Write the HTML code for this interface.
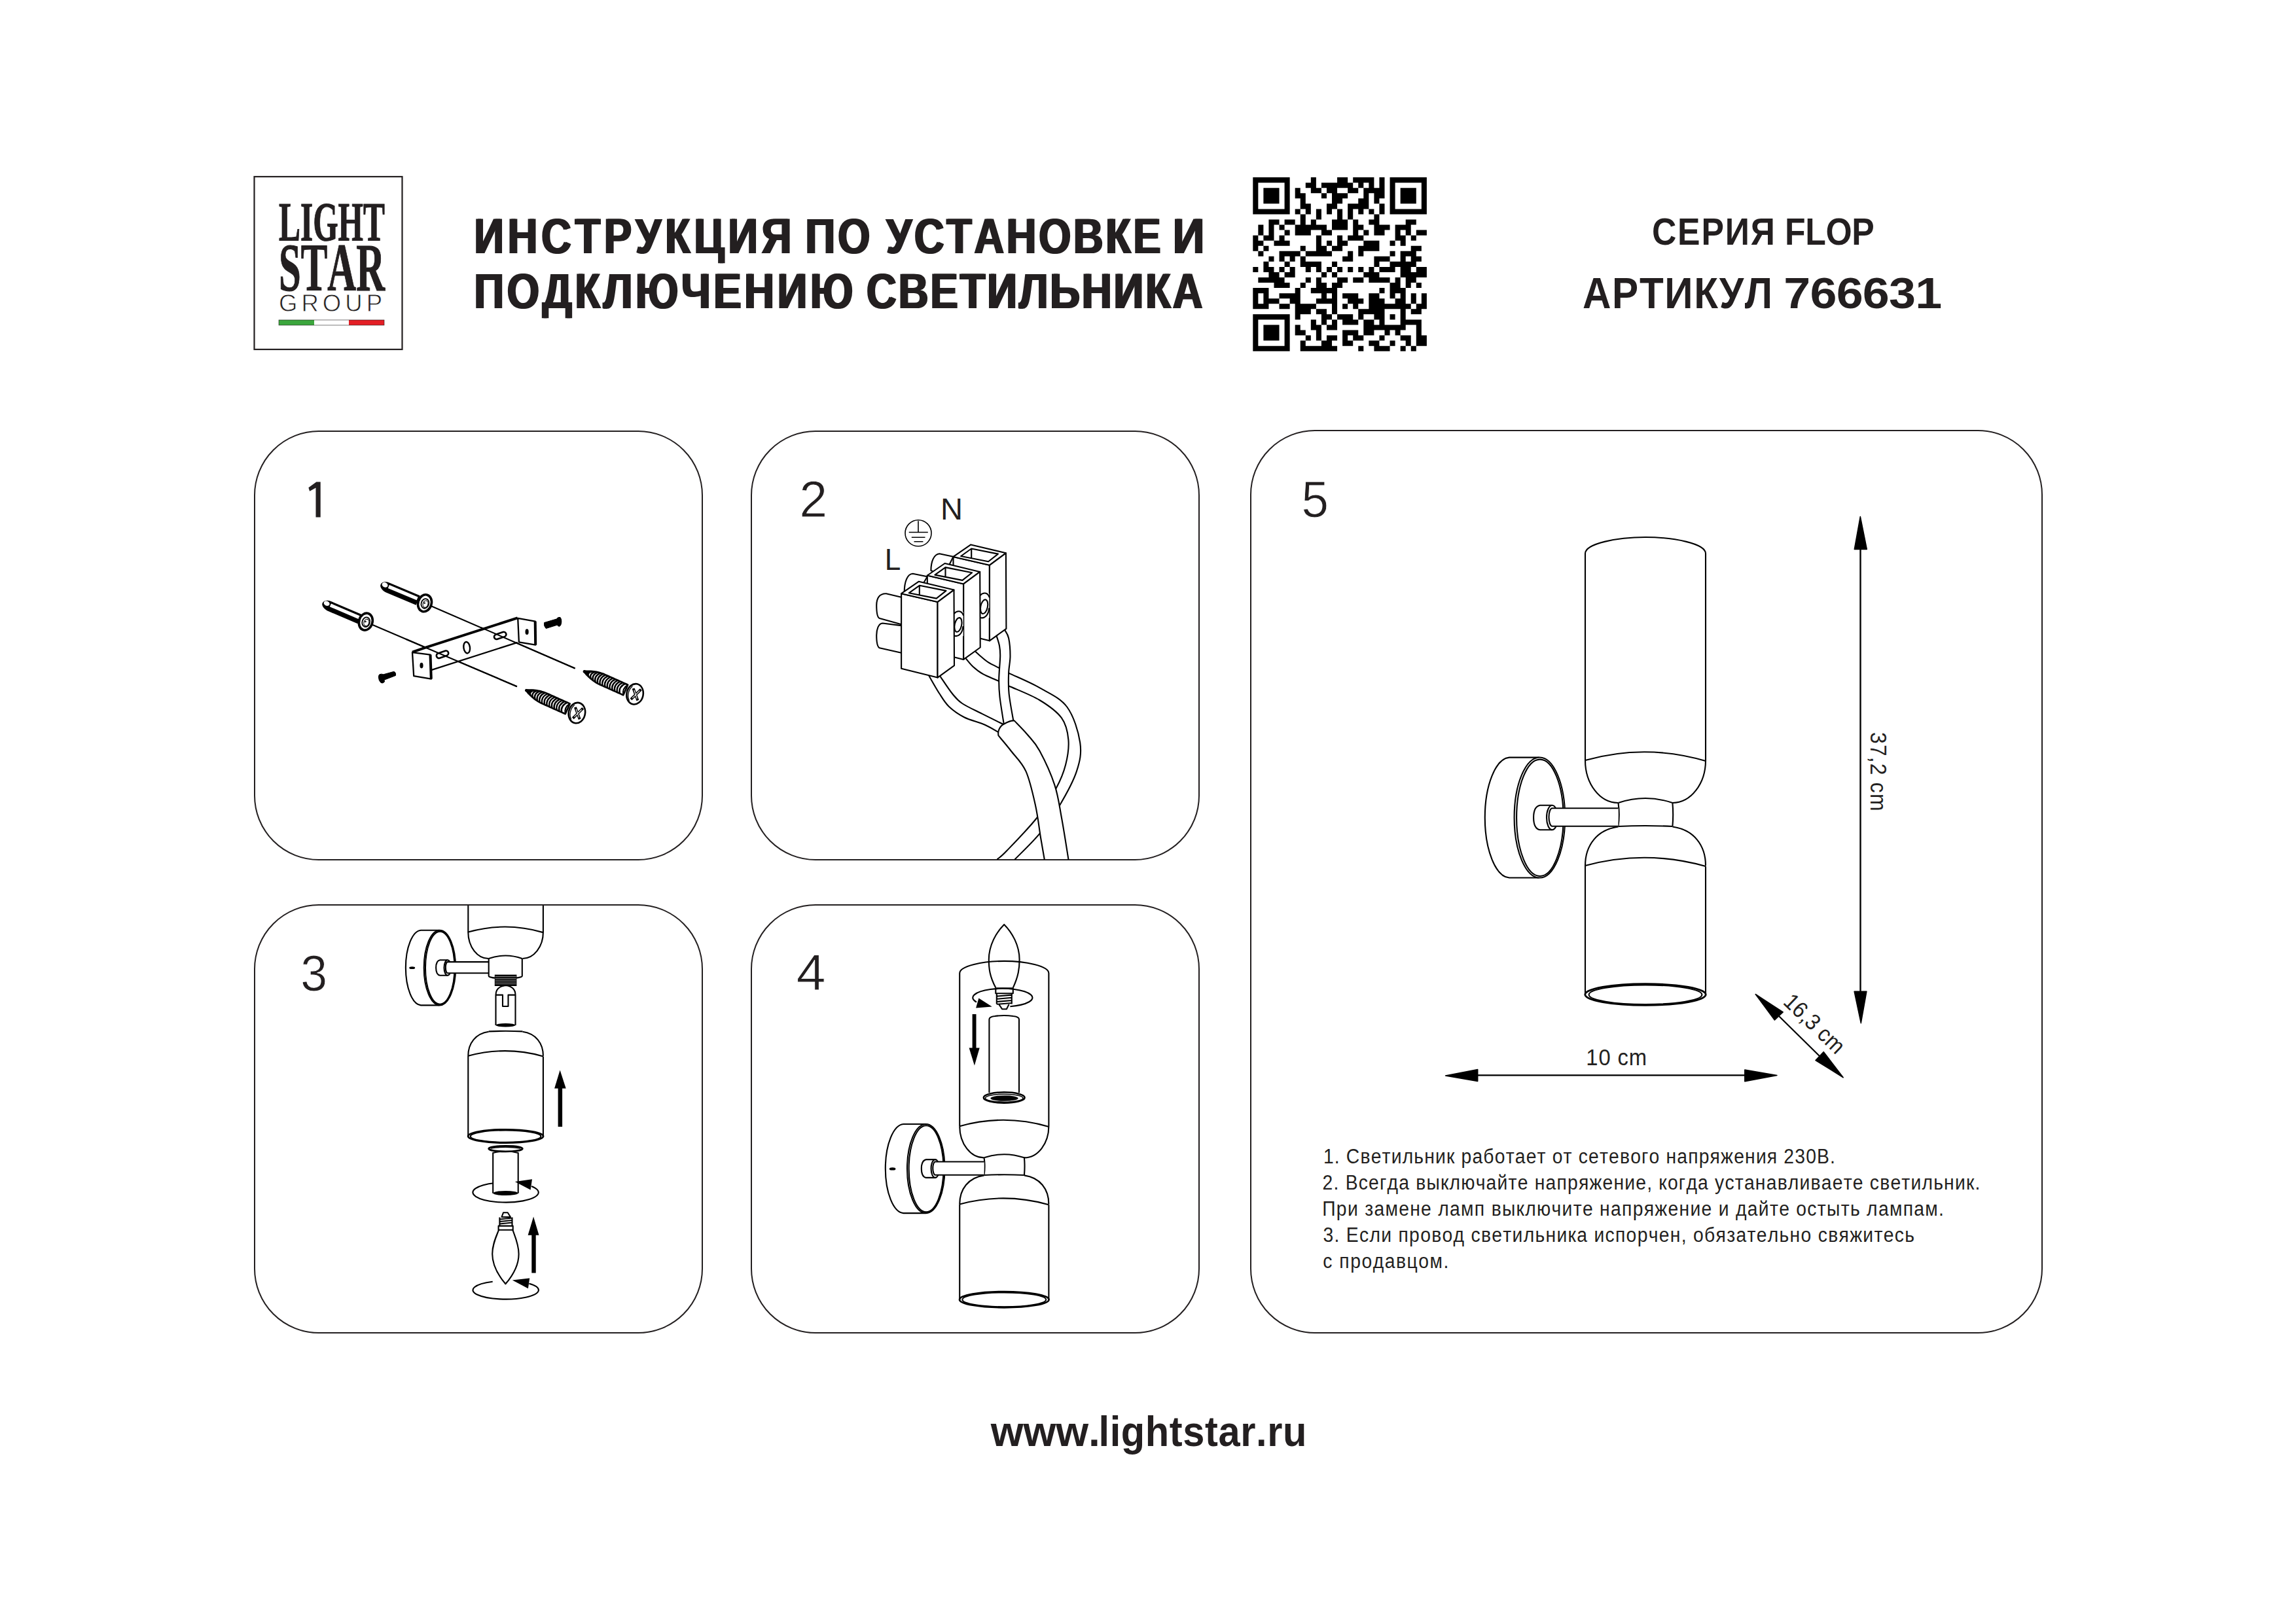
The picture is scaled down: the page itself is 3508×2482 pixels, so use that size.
<!DOCTYPE html>
<html><head><meta charset="utf-8">
<style>
html,body{margin:0;padding:0;background:#fff;}
body{width:3508px;height:2482px;overflow:hidden;}
svg{display:block;}
text{font-family:"Liberation Sans",sans-serif;fill:#231f20;font-kerning:none;}
</style></head><body>
<svg width="3508" height="2482" viewBox="0 0 3508 2482" xmlns="http://www.w3.org/2000/svg">
<rect width="3508" height="2482" fill="#fff"/>
<g id="logo">
<rect x="388.5" y="270" width="226" height="264" fill="none" stroke="#231f20" stroke-width="2.2"/>
<text x="426" y="368" font-family="Liberation Serif" font-weight="bold" font-size="84" textLength="162" lengthAdjust="spacingAndGlyphs" style="font-family:'Liberation Serif',serif" stroke="#231f20" stroke-width="1.2">LIGHT</text>
<text x="426" y="444" font-family="Liberation Serif" font-weight="bold" font-size="104" textLength="162" lengthAdjust="spacingAndGlyphs" style="font-family:'Liberation Serif',serif" stroke="#231f20" stroke-width="1.2">STAR</text>
<text x="426" y="475.5" font-size="36.5" textLength="158" lengthAdjust="spacing" stroke="#fff" stroke-width="0.8">GROUP</text>
<rect x="426" y="489" width="54" height="8" fill="#3ba63d"/>
<rect x="480" y="489" width="53" height="8" fill="#fff"/>
<rect x="533" y="489" width="54" height="8" fill="#e31e25"/>
<rect x="426" y="489" width="161" height="8" fill="none" stroke="#231f20" stroke-width="0.6"/>
</g>

<text transform="translate(722.92 386.80) scale(0.8300 1)" font-family="Liberation Sans" font-weight="bold" font-size="76.36" letter-spacing="6.887">ИНСТРУКЦИЯ</text>
<text transform="translate(725.72 386.80) scale(0.8300 1)" font-family="Liberation Sans" font-weight="bold" font-size="76.36" letter-spacing="6.887">ИНСТРУКЦИЯ</text>
<text transform="translate(1229.12 386.80) scale(0.8300 1)" font-family="Liberation Sans" font-weight="bold" font-size="76.36" letter-spacing="4.889">ПО</text>
<text transform="translate(1231.92 386.80) scale(0.8300 1)" font-family="Liberation Sans" font-weight="bold" font-size="76.36" letter-spacing="4.889">ПО</text>
<text transform="translate(1352.40 386.80) scale(0.8300 1)" font-family="Liberation Sans" font-weight="bold" font-size="76.36" letter-spacing="4.298">УСТАНОВКЕ</text>
<text transform="translate(1355.20 386.80) scale(0.8300 1)" font-family="Liberation Sans" font-weight="bold" font-size="76.36" letter-spacing="4.298">УСТАНОВКЕ</text>
<text transform="translate(1790.45 386.80) scale(0.8823 1)" font-family="Liberation Sans" font-weight="bold" font-size="76.36" letter-spacing="0.000">И</text>
<text transform="translate(1793.25 386.80) scale(0.8823 1)" font-family="Liberation Sans" font-weight="bold" font-size="76.36" letter-spacing="0.000">И</text>
<text transform="translate(722.91 470.90) scale(0.8300 1)" font-family="Liberation Sans" font-weight="bold" font-size="76.65" letter-spacing="5.454">ПОДКЛЮЧЕНИЮ</text>
<text transform="translate(725.71 470.90) scale(0.8300 1)" font-family="Liberation Sans" font-weight="bold" font-size="76.65" letter-spacing="5.454">ПОДКЛЮЧЕНИЮ</text>
<text transform="translate(1322.46 470.90) scale(0.8300 1)" font-family="Liberation Sans" font-weight="bold" font-size="76.65" letter-spacing="3.389">СВЕТИЛЬНИКА</text>
<text transform="translate(1325.26 470.90) scale(0.8300 1)" font-family="Liberation Sans" font-weight="bold" font-size="76.65" letter-spacing="3.389">СВЕТИЛЬНИКА</text>
<text transform="translate(2523.93 373.70) scale(0.9000 1)" font-family="Liberation Sans" font-weight="bold" font-size="57.45" letter-spacing="2.038">СЕРИЯ</text>
<text transform="translate(2727.01 373.70) scale(0.9000 1)" font-family="Liberation Sans" font-weight="bold" font-size="57.45" letter-spacing="-0.420">FLOP</text>
<text transform="translate(2417.99 470.80) scale(0.9000 1)" font-family="Liberation Sans" font-weight="bold" font-size="66.91" letter-spacing="1.835">АРТИКУЛ</text>
<text transform="translate(2725.37 470.80) scale(1.1000 1)" font-family="Liberation Sans" font-weight="bold" font-size="66.91" letter-spacing="-0.692">766631</text>
<text transform="translate(1221.15 789.70) scale(0.9810 1)" font-family="Liberation Sans" font-size="78.55" letter-spacing="0.000" stroke="#fff" stroke-width="0.9">2</text>
<text transform="translate(1988.51 789.50) scale(0.9507 1)" font-family="Liberation Sans" font-size="78.55" letter-spacing="0.000" stroke="#fff" stroke-width="0.9">5</text>
<text transform="translate(459.25 1513.80) scale(0.9345 1)" font-family="Liberation Sans" font-size="78.55" letter-spacing="0.000" stroke="#fff" stroke-width="0.9">3</text>
<text transform="translate(1216.69 1513.20) scale(1.0244 1)" font-family="Liberation Sans" font-size="78.55" letter-spacing="0.000" stroke="#fff" stroke-width="0.9">4</text>
<text transform="translate(2021.88 1777.60) scale(0.9000 1)" font-family="Liberation Sans" font-size="31.42" letter-spacing="1.313">1. Светильник работает от сетевого напряжения 230В.</text>
<text transform="translate(2020.59 1817.60) scale(0.9000 1)" font-family="Liberation Sans" font-size="31.42" letter-spacing="1.348">2. Всегда выключайте напряжение, когда устанавливаете светильник.</text>
<text transform="translate(2020.24 1857.60) scale(0.9000 1)" font-family="Liberation Sans" font-size="31.42" letter-spacing="1.452">При замене ламп выключите напряжение и дайте остыть лампам.</text>
<text transform="translate(2021.44 1897.60) scale(0.9000 1)" font-family="Liberation Sans" font-size="31.42" letter-spacing="1.461">3. Если провод светильника испорчен, обязательно свяжитесь</text>
<text transform="translate(2021.30 1937.70) scale(0.9000 1)" font-family="Liberation Sans" font-size="31.42" letter-spacing="1.717">с продавцом.</text>
<text transform="translate(1513.66 2209.90)" font-family="Liberation Sans" font-weight="bold" font-size="64.14" letter-spacing="-0.116">www.</text>
<text transform="translate(1678.52 2209.90) scale(0.9300 1)" font-family="Liberation Sans" font-weight="bold" font-size="64.14" letter-spacing="0.628">lightstar.ru</text>
<text transform="translate(2423.34 1627.80) scale(0.9200 1)" font-family="Liberation Sans" font-size="35.64" letter-spacing="0.905">10 cm</text>
<text transform="translate(1436.91 793.90) scale(1.0215 1)" font-family="Liberation Sans" font-size="46.11" letter-spacing="0.000">N</text>
<text transform="translate(1351.86 871.20) scale(0.9545 1)" font-family="Liberation Sans" font-size="46.25" letter-spacing="0.000">L</text>
<path d="M489.7 736.4V790.4H482.5V745.6L473.1 750.8L471.4 745.2L483.4 736.4Z" fill="#231f20"/>
<g transform="translate(2858.4 0) rotate(90)"><text transform="translate(1119.01 0) scale(0.9200 1)" font-size="34.62" letter-spacing="1.298">37,2 cm</text></g>
<g transform="translate(2726.4 1536.6) rotate(43.9)"><text transform="translate(-4.89 0) scale(0.9200 1)" font-size="34.62" letter-spacing="0.210">16,3 cm</text></g>
<g id="qr"><g transform="translate(1914.3 271.1) scale(8.048)"><path fill="#000" d="M0 0h7v1h-7zM11 0h1v1h-1zM16 0h2v1h-2zM19 0h4v1h-4zM24 0h1v1h-1zM26 0h7v1h-7zM0 1h1v1h-1zM6 1h1v1h-1zM10 1h2v1h-2zM13 1h6v1h-6zM20 1h1v1h-1zM22 1h1v1h-1zM24 1h1v1h-1zM26 1h1v1h-1zM32 1h1v1h-1zM0 2h1v1h-1zM2 2h3v1h-3zM6 2h1v1h-1zM8 2h1v1h-1zM11 2h2v1h-2zM14 2h2v1h-2zM18 2h2v1h-2zM21 2h4v1h-4zM26 2h1v1h-1zM28 2h3v1h-3zM32 2h1v1h-1zM0 3h1v1h-1zM2 3h3v1h-3zM6 3h1v1h-1zM8 3h2v1h-2zM13 3h1v1h-1zM15 3h3v1h-3zM21 3h1v1h-1zM23 3h2v1h-2zM26 3h1v1h-1zM28 3h3v1h-3zM32 3h1v1h-1zM0 4h1v1h-1zM2 4h3v1h-3zM6 4h1v1h-1zM9 4h1v1h-1zM15 4h2v1h-2zM20 4h2v1h-2zM23 4h1v1h-1zM26 4h1v1h-1zM28 4h3v1h-3zM32 4h1v1h-1zM0 5h1v1h-1zM6 5h1v1h-1zM9 5h2v1h-2zM14 5h2v1h-2zM18 5h4v1h-4zM24 5h1v1h-1zM26 5h1v1h-1zM32 5h1v1h-1zM0 6h7v1h-7zM8 6h1v1h-1zM10 6h1v1h-1zM12 6h1v1h-1zM14 6h1v1h-1zM16 6h1v1h-1zM18 6h1v1h-1zM20 6h1v1h-1zM22 6h1v1h-1zM24 6h1v1h-1zM26 6h7v1h-7zM9 7h1v1h-1zM12 7h1v1h-1zM16 7h1v1h-1zM18 7h1v1h-1zM23 7h1v1h-1zM3 8h2v1h-2zM6 8h2v1h-2zM9 8h1v1h-1zM11 8h1v1h-1zM15 8h3v1h-3zM19 8h1v1h-1zM22 8h2v1h-2zM29 8h2v1h-2zM1 9h1v1h-1zM3 9h1v1h-1zM5 9h1v1h-1zM8 9h6v1h-6zM15 9h3v1h-3zM19 9h2v1h-2zM23 9h3v1h-3zM27 9h3v1h-3zM1 10h1v1h-1zM3 10h1v1h-1zM6 10h1v1h-1zM8 10h3v1h-3zM13 10h2v1h-2zM19 10h1v1h-1zM21 10h1v1h-1zM23 10h2v1h-2zM27 10h1v1h-1zM29 10h1v1h-1zM31 10h2v1h-2zM0 11h1v1h-1zM2 11h2v1h-2zM5 11h1v1h-1zM12 11h1v1h-1zM16 11h1v1h-1zM18 11h3v1h-3zM27 11h2v1h-2zM30 11h1v1h-1zM0 12h2v1h-2zM4 12h3v1h-3zM12 12h1v1h-1zM14 12h1v1h-1zM16 12h2v1h-2zM21 12h3v1h-3zM26 12h1v1h-1zM28 12h1v1h-1zM0 13h1v1h-1zM2 13h1v1h-1zM9 13h1v1h-1zM12 13h2v1h-2zM15 13h2v1h-2zM20 13h4v1h-4zM30 13h2v1h-2zM1 14h1v1h-1zM5 14h4v1h-4zM10 14h5v1h-5zM18 14h1v1h-1zM20 14h1v1h-1zM26 14h1v1h-1zM28 14h3v1h-3zM3 15h1v1h-1zM5 15h1v1h-1zM7 15h1v1h-1zM9 15h1v1h-1zM17 15h2v1h-2zM23 15h3v1h-3zM28 15h1v1h-1zM30 15h2v1h-2zM2 16h1v1h-1zM6 16h1v1h-1zM9 16h4v1h-4zM15 16h1v1h-1zM23 16h1v1h-1zM26 16h5v1h-5zM0 17h1v1h-1zM2 17h2v1h-2zM5 17h1v1h-1zM7 17h1v1h-1zM10 17h1v1h-1zM12 17h1v1h-1zM14 17h1v1h-1zM16 17h1v1h-1zM18 17h1v1h-1zM20 17h1v1h-1zM22 17h1v1h-1zM24 17h3v1h-3zM28 17h2v1h-2zM31 17h2v1h-2zM3 18h2v1h-2zM6 18h2v1h-2zM13 18h1v1h-1zM15 18h1v1h-1zM21 18h3v1h-3zM28 18h5v1h-5zM1 19h5v1h-5zM10 19h1v1h-1zM12 19h1v1h-1zM16 19h2v1h-2zM19 19h2v1h-2zM22 19h4v1h-4zM27 19h1v1h-1zM29 19h2v1h-2zM4 20h3v1h-3zM9 20h1v1h-1zM12 20h2v1h-2zM15 20h2v1h-2zM26 20h2v1h-2zM29 20h1v1h-1zM31 20h1v1h-1zM0 21h3v1h-3zM8 21h1v1h-1zM11 21h5v1h-5zM24 21h1v1h-1zM26 21h3v1h-3zM0 22h1v1h-1zM2 22h1v1h-1zM5 22h4v1h-4zM13 22h1v1h-1zM15 22h1v1h-1zM17 22h3v1h-3zM22 22h2v1h-2zM26 22h1v1h-1zM28 22h1v1h-1zM30 22h1v1h-1zM32 22h1v1h-1zM0 23h1v1h-1zM2 23h3v1h-3zM7 23h2v1h-2zM12 23h4v1h-4zM18 23h3v1h-3zM22 23h3v1h-3zM27 23h2v1h-2zM30 23h1v1h-1zM32 23h1v1h-1zM0 24h3v1h-3zM5 24h2v1h-2zM8 24h4v1h-4zM15 24h1v1h-1zM17 24h1v1h-1zM19 24h1v1h-1zM22 24h8v1h-8zM31 24h2v1h-2zM8 25h3v1h-3zM12 25h2v1h-2zM15 25h1v1h-1zM20 25h5v1h-5zM28 25h1v1h-1zM30 25h2v1h-2zM0 26h7v1h-7zM8 26h1v1h-1zM13 26h2v1h-2zM16 26h3v1h-3zM20 26h1v1h-1zM23 26h2v1h-2zM26 26h1v1h-1zM28 26h1v1h-1zM0 27h1v1h-1zM6 27h1v1h-1zM11 27h1v1h-1zM13 27h1v1h-1zM15 27h1v1h-1zM17 27h3v1h-3zM21 27h2v1h-2zM24 27h1v1h-1zM28 27h4v1h-4zM0 28h1v1h-1zM2 28h3v1h-3zM6 28h1v1h-1zM8 28h1v1h-1zM11 28h2v1h-2zM14 28h2v1h-2zM21 28h8v1h-8zM31 28h1v1h-1zM0 29h1v1h-1zM2 29h3v1h-3zM6 29h1v1h-1zM8 29h2v1h-2zM12 29h1v1h-1zM17 29h3v1h-3zM21 29h2v1h-2zM25 29h1v1h-1zM27 29h1v1h-1zM31 29h1v1h-1zM0 30h1v1h-1zM2 30h3v1h-3zM6 30h1v1h-1zM10 30h1v1h-1zM12 30h1v1h-1zM14 30h2v1h-2zM17 30h1v1h-1zM19 30h2v1h-2zM24 30h1v1h-1zM28 30h2v1h-2zM31 30h2v1h-2zM0 31h1v1h-1zM6 31h1v1h-1zM9 31h1v1h-1zM13 31h2v1h-2zM17 31h2v1h-2zM22 31h2v1h-2zM26 31h1v1h-1zM29 31h1v1h-1zM31 31h2v1h-2zM0 32h7v1h-7zM9 32h7v1h-7zM20 32h1v1h-1zM23 32h3v1h-3zM28 32h1v1h-1zM30 32h1v1h-1z"/></g></g>
<g fill="none" stroke="#231f20" stroke-width="2">
<rect x="389" y="659" width="684" height="655" rx="98" ry="98"/>
<rect x="1148" y="659" width="684" height="655" rx="98" ry="98"/>
<rect x="389" y="1383" width="684" height="654" rx="98" ry="98"/>
<rect x="1148" y="1383" width="684" height="654" rx="98" ry="98"/>
<rect x="1911" y="658" width="1209" height="1379" rx="98" ry="98"/>
</g>
<g stroke="#000" stroke-width="2.1" stroke-linecap="butt" fill="none">
<path d="M558.8 950.5 L789.9 1049.3"/>
<path d="M649 922 L878.6 1021.5"/>
</g>
<g transform="translate(492.6 921.8) rotate(23.15)">
<path d="M11 -7.8 L62 -7.8 L62 7.8 L13 7.8 C7 7.8 0 4.5 0 0 C0 -4.5 5 -7.8 11 -7.8 Z" fill="#000"/>
<path d="M12.5 -4.6 L60 -4.6 L60 0.6 L12.5 0.6 Z" fill="#fff"/>
<ellipse cx="6.2" cy="-2.2" rx="4.6" ry="3.6" fill="#fff"/>
</g>
<g transform="translate(558.8 950.1) rotate(16.6)">
<ellipse cx="0" cy="0" rx="10.2" ry="13.2" fill="#fff" stroke="#000" stroke-width="3.6"/>
<ellipse cx="0.6" cy="0.5" rx="5.8" ry="7.4" fill="none" stroke="#000" stroke-width="1.8"/>
<ellipse cx="1.4" cy="1" rx="3.8" ry="5.3" fill="none" stroke="#000" stroke-width="1.1"/>
<circle cx="-0.3" cy="0" r="1.2" fill="#000"/>
</g>
<g transform="translate(581.5 893.5) rotate(22.75)">
<path d="M11 -7.8 L62 -7.8 L62 7.8 L13 7.8 C7 7.8 0 4.5 0 0 C0 -4.5 5 -7.8 11 -7.8 Z" fill="#000"/>
<path d="M12.5 -4.6 L60 -4.6 L60 0.6 L12.5 0.6 Z" fill="#fff"/>
<ellipse cx="6.2" cy="-2.2" rx="4.6" ry="3.6" fill="#fff"/>
</g>
<g transform="translate(649 921.8) rotate(16.6)">
<ellipse cx="0" cy="0" rx="10.2" ry="13.2" fill="#fff" stroke="#000" stroke-width="3.6"/>
<ellipse cx="0.6" cy="0.5" rx="5.8" ry="7.4" fill="none" stroke="#000" stroke-width="1.8"/>
<ellipse cx="1.4" cy="1" rx="3.8" ry="5.3" fill="none" stroke="#000" stroke-width="1.1"/>
<circle cx="-0.3" cy="0" r="1.2" fill="#000"/>
</g>
<g stroke="#000" stroke-width="2.3" fill="#fff" stroke-linejoin="round">
<path d="M648.7 990.1 L790.7 944.4 L790.7 981.8 L658.8 1024.1 Z" stroke="none"/>
<path d="M658.8 1024.1 L790.7 981.8" fill="none"/>
<path d="M630 996.6 L648.7 990.1 L790.7 944.4" fill="none" stroke-width="4"/>
<path d="M630 997.1 L657.5 1000.6 L658.8 1037.6 L632.2 1033.2 Z"/>
<path d="M657.5 1000.6 L658.8 1037.6" stroke-width="4" fill="none"/>
<path d="M791.2 944.8 L817.7 949.6 L818.2 985.7 L792.9 981.4 Z"/>
<path d="M817.7 949.6 L818.2 985.7" stroke-width="4" fill="none"/>
<g transform="translate(676 1000.2) rotate(-19)"><rect x="-9.5" y="-3.8" width="19" height="7.6" rx="3.8" fill="none" stroke-width="2.6"/></g>
<g transform="translate(764.2 971.4) rotate(-19)"><rect x="-9.5" y="-3.8" width="19" height="7.6" rx="3.8" fill="none" stroke-width="2.6"/></g>
<ellipse cx="713.2" cy="989.7" rx="4.8" ry="8.8" fill="none" stroke-width="2.4" transform="rotate(-8 713.2 989.7)"/>
</g>
<g fill="#000"><ellipse cx="644" cy="1017.1" rx="2.6" ry="4.4"/><ellipse cx="805.1" cy="965.7" rx="2.6" ry="4.4"/></g>
<g stroke="#000" stroke-width="2.1" fill="none">
<path d="M620 976.7 L789.9 1049.3"/>
<path d="M735 959.1 L878.6 1021.5"/>
</g>
<g fill="#000" stroke="#000" stroke-width="1" stroke-linejoin="round">
<path d="M583 1031.6 L601.6 1026.4 Q605 1027 604.5 1032.4 L586 1039.6 Z"/>
<path d="M580 1030.6 Q584 1029.5 585.5 1031 L587.5 1042 Q585 1045 582 1043.5 Q578.5 1040 578.4 1035 Q578.5 1031.5 580 1030.6 Z"/>
<path d="M831.5 951.6 L852 945.5 L853.7 954.4 L834.3 960.5 Q830.5 957 831.5 951.6 Z"/>
<path d="M851.3 944.8 Q853.5 942.8 856 943.5 Q858.3 946 857.8 951 Q857.3 956 855 957.3 Q852.3 957.5 851.5 955 Z"/>
</g>
<g transform="translate(803.3 1054.7) rotate(24.08)" stroke="#000" fill="none" stroke-linejoin="round">
<path d="M0 0 L2.0 -1.04 L4.0 -2.02 L6.0 -2.92 L8.0 -3.76 L10.0 -4.54 L12.0 -5.24 L14.0 -5.88 L16.0 -6.45 L18.0 -6.95 L20.0 -7.39 L22.0 -7.76 L24.0 -8.06 L26.0 -8.30 L28.0 -8.47 L30.0 -8.57 L32.0 -8.60 L34.0 -8.60 L36.0 -8.60 L38.0 -8.60 L40.0 -8.60 L42.0 -8.60 L44.0 -8.60 L46.0 -8.60 L48.0 -8.60 L50.0 -8.60 L52.0 -8.60 L54.0 -8.60 L56.0 -8.60 L58.0 -8.60 L60.0 -8.60 L62.0 -8.60 L64.0 -8.60 L66.0 -8.60 L68.0 -8.60 L70 -8.6 L70 8.6 L68.0 8.60 L66.0 8.60 L64.0 8.60 L62.0 8.60 L60.0 8.60 L58.0 8.60 L56.0 8.60 L54.0 8.60 L52.0 8.60 L50.0 8.60 L48.0 8.60 L46.0 8.60 L44.0 8.60 L42.0 8.60 L40.0 8.60 L38.0 8.60 L36.0 8.60 L34.0 8.60 L32.0 8.60 L30.0 8.57 L28.0 8.47 L26.0 8.30 L24.0 8.06 L22.0 7.76 L20.0 7.39 L18.0 6.95 L16.0 6.45 L14.0 5.88 L12.0 5.24 L10.0 4.54 L8.0 3.76 L6.0 2.92 L4.0 2.02 L2.0 1.04 Z" fill="#fff" stroke-width="2.6"/>
<path d="M0 -1.2 L8 -2.4 L8 2.4 L0 1.2 Z" fill="#000" stroke-width="1.5"/>
<path d="M8.2 -3.35 Q0.5 0 6.5 3.35" stroke-width="2.4"/>
<path d="M12.3 -4.93 Q4.6 0 10.6 4.93" stroke-width="2.4"/>
<path d="M16.4 -6.23 Q8.7 0 14.7 6.23" stroke-width="2.4"/>
<path d="M20.5 -7.25 Q12.8 0 18.8 7.25" stroke-width="2.4"/>
<path d="M24.6 -7.98 Q16.9 0 22.9 7.98" stroke-width="2.4"/>
<path d="M28.7 -8.43 Q21.0 0 27.0 8.43" stroke-width="2.4"/>
<path d="M32.8 -8.60 Q25.1 0 31.1 8.60" stroke-width="2.4"/>
<path d="M36.9 -8.60 Q29.2 0 35.2 8.60" stroke-width="2.4"/>
<path d="M41.0 -8.60 Q33.3 0 39.3 8.60" stroke-width="2.4"/>
<path d="M45.1 -8.60 Q37.4 0 43.4 8.60" stroke-width="2.4"/>
<path d="M49.2 -8.60 Q41.5 0 47.5 8.60" stroke-width="2.4"/>
<path d="M53.3 -8.60 Q45.6 0 51.6 8.60" stroke-width="2.4"/>
<path d="M57.4 -8.60 Q49.7 0 55.7 8.60" stroke-width="2.4"/>
<path d="M61.5 -8.60 Q53.8 0 59.8 8.60" stroke-width="2.4"/>
<path d="M65.6 -8.60 Q57.9 0 63.9 8.60" stroke-width="2.4"/>
<path d="M70 -8.6 Q64 0 70 8.6" stroke-width="2.2"/>
</g>
<g transform="translate(881.4 1089.6) rotate(12)" stroke="#000">
<ellipse cx="0" cy="0" rx="12.6" ry="15.8" fill="#fff" stroke-width="2.6"/>
<path d="M-8.5 -11 A12.6 15.8 0 0 0 -8.8 11.5" fill="none" stroke-width="1.3" transform="translate(2.4 0)"/>
</g>
<g transform="translate(883.00 1089.80)" fill="none"><path d="M-6.3 6.5 L6.3 -6 M-3.4 -7 L2 7.6" stroke="#000" stroke-width="4" stroke-linecap="square"/><path d="M-5.6 5.8 L5.6 -5.3 M-2.9 -6.2 L1.6 6.8" stroke="#fff" stroke-width="1.1"/></g>
<g transform="translate(891.9 1025.9) rotate(24.05)" stroke="#000" fill="none" stroke-linejoin="round">
<path d="M0 0 L2.0 -1.04 L4.0 -2.02 L6.0 -2.92 L8.0 -3.76 L10.0 -4.54 L12.0 -5.24 L14.0 -5.88 L16.0 -6.45 L18.0 -6.95 L20.0 -7.39 L22.0 -7.76 L24.0 -8.06 L26.0 -8.30 L28.0 -8.47 L30.0 -8.57 L32.0 -8.60 L34.0 -8.60 L36.0 -8.60 L38.0 -8.60 L40.0 -8.60 L42.0 -8.60 L44.0 -8.60 L46.0 -8.60 L48.0 -8.60 L50.0 -8.60 L52.0 -8.60 L54.0 -8.60 L56.0 -8.60 L58.0 -8.60 L60.0 -8.60 L62.0 -8.60 L64.0 -8.60 L66.0 -8.60 L68.0 -8.60 L70 -8.6 L70 8.6 L68.0 8.60 L66.0 8.60 L64.0 8.60 L62.0 8.60 L60.0 8.60 L58.0 8.60 L56.0 8.60 L54.0 8.60 L52.0 8.60 L50.0 8.60 L48.0 8.60 L46.0 8.60 L44.0 8.60 L42.0 8.60 L40.0 8.60 L38.0 8.60 L36.0 8.60 L34.0 8.60 L32.0 8.60 L30.0 8.57 L28.0 8.47 L26.0 8.30 L24.0 8.06 L22.0 7.76 L20.0 7.39 L18.0 6.95 L16.0 6.45 L14.0 5.88 L12.0 5.24 L10.0 4.54 L8.0 3.76 L6.0 2.92 L4.0 2.02 L2.0 1.04 Z" fill="#fff" stroke-width="2.6"/>
<path d="M0 -1.2 L8 -2.4 L8 2.4 L0 1.2 Z" fill="#000" stroke-width="1.5"/>
<path d="M8.2 -3.35 Q0.5 0 6.5 3.35" stroke-width="2.4"/>
<path d="M12.3 -4.93 Q4.6 0 10.6 4.93" stroke-width="2.4"/>
<path d="M16.4 -6.23 Q8.7 0 14.7 6.23" stroke-width="2.4"/>
<path d="M20.5 -7.25 Q12.8 0 18.8 7.25" stroke-width="2.4"/>
<path d="M24.6 -7.98 Q16.9 0 22.9 7.98" stroke-width="2.4"/>
<path d="M28.7 -8.43 Q21.0 0 27.0 8.43" stroke-width="2.4"/>
<path d="M32.8 -8.60 Q25.1 0 31.1 8.60" stroke-width="2.4"/>
<path d="M36.9 -8.60 Q29.2 0 35.2 8.60" stroke-width="2.4"/>
<path d="M41.0 -8.60 Q33.3 0 39.3 8.60" stroke-width="2.4"/>
<path d="M45.1 -8.60 Q37.4 0 43.4 8.60" stroke-width="2.4"/>
<path d="M49.2 -8.60 Q41.5 0 47.5 8.60" stroke-width="2.4"/>
<path d="M53.3 -8.60 Q45.6 0 51.6 8.60" stroke-width="2.4"/>
<path d="M57.4 -8.60 Q49.7 0 55.7 8.60" stroke-width="2.4"/>
<path d="M61.5 -8.60 Q53.8 0 59.8 8.60" stroke-width="2.4"/>
<path d="M65.6 -8.60 Q57.9 0 63.9 8.60" stroke-width="2.4"/>
<path d="M70 -8.6 Q64 0 70 8.6" stroke-width="2.2"/>
</g>
<g transform="translate(970.1 1060.8) rotate(12)" stroke="#000">
<ellipse cx="0" cy="0" rx="12.6" ry="15.8" fill="#fff" stroke-width="2.6"/>
<path d="M-8.5 -11 A12.6 15.8 0 0 0 -8.8 11.5" fill="none" stroke-width="1.3" transform="translate(2.4 0)"/>
</g>
<g transform="translate(971.70 1061.00)" fill="none"><path d="M-6.3 6.5 L6.3 -6 M-3.4 -7 L2 7.6" stroke="#000" stroke-width="4" stroke-linecap="square"/><path d="M-5.6 5.8 L5.6 -5.3 M-2.9 -6.2 L1.6 6.8" stroke="#fff" stroke-width="1.1"/></g>
<path d="M1489.80 995.30 C1491.17 996.53 1494.67 999.90 1498.00 1002.70 C1501.33 1005.50 1505.10 1009.10 1509.80 1012.10 C1514.50 1015.10 1520.98 1017.95 1526.20 1020.70 C1531.42 1023.45 1530.73 1023.52 1541.10 1028.60 C1551.47 1033.68 1573.53 1042.55 1588.40 1051.20 C1603.27 1059.85 1620.00 1066.55 1630.30 1080.50 C1640.60 1094.45 1647.77 1118.50 1650.20 1134.90 C1652.63 1151.30 1650.13 1162.85 1644.90 1178.90 C1639.67 1194.95 1628.22 1215.33 1618.80 1231.20 C1609.38 1247.07 1599.70 1260.47 1588.40 1274.10 C1577.10 1287.73 1557.23 1306.52 1551.00 1313.00 L1524 1313 C1526.37 1310.88 1528.17 1310.80 1538.20 1300.30 C1548.23 1289.80 1571.65 1265.88 1584.20 1250.00 C1596.75 1234.12 1606.17 1218.60 1613.50 1205.00 C1620.83 1191.40 1625.05 1180.78 1628.20 1168.40 C1631.35 1156.02 1633.45 1142.57 1632.40 1130.70 C1631.35 1118.83 1629.23 1107.32 1621.90 1097.20 C1614.57 1087.08 1601.87 1078.17 1588.40 1070.00 C1574.93 1061.83 1551.73 1053.15 1541.10 1048.20 C1530.47 1043.25 1531.13 1043.30 1524.60 1040.30 C1518.07 1037.30 1508.30 1033.85 1501.90 1030.20 C1495.50 1026.55 1490.63 1022.45 1486.20 1018.40 C1481.77 1014.35 1477.12 1007.98 1475.30 1005.90 Z" fill="#fff" stroke="none"/>
<path d="M1475.30 1005.90 C1477.12 1007.98 1481.77 1014.35 1486.20 1018.40 C1490.63 1022.45 1495.50 1026.55 1501.90 1030.20 C1508.30 1033.85 1518.07 1037.30 1524.60 1040.30 C1531.13 1043.30 1530.47 1043.25 1541.10 1048.20 C1551.73 1053.15 1574.93 1061.83 1588.40 1070.00 C1601.87 1078.17 1614.57 1087.08 1621.90 1097.20 C1629.23 1107.32 1631.35 1118.83 1632.40 1130.70 C1633.45 1142.57 1631.35 1156.02 1628.20 1168.40 C1625.05 1180.78 1620.83 1191.40 1613.50 1205.00 C1606.17 1218.60 1596.75 1234.12 1584.20 1250.00 C1571.65 1265.88 1548.23 1289.80 1538.20 1300.30 C1528.17 1310.80 1526.37 1310.88 1524.00 1313.00 M1489.80 995.30 C1491.17 996.53 1494.67 999.90 1498.00 1002.70 C1501.33 1005.50 1505.10 1009.10 1509.80 1012.10 C1514.50 1015.10 1520.98 1017.95 1526.20 1020.70 C1531.42 1023.45 1530.73 1023.52 1541.10 1028.60 C1551.47 1033.68 1573.53 1042.55 1588.40 1051.20 C1603.27 1059.85 1620.00 1066.55 1630.30 1080.50 C1640.60 1094.45 1647.77 1118.50 1650.20 1134.90 C1652.63 1151.30 1650.13 1162.85 1644.90 1178.90 C1639.67 1194.95 1628.22 1215.33 1618.80 1231.20 C1609.38 1247.07 1599.70 1260.47 1588.40 1274.10 C1577.10 1287.73 1557.23 1306.52 1551.00 1313.00" fill="none" stroke="#000" stroke-width="2.1" stroke-linejoin="round" stroke-linecap="round"/>
<path d="M1534.80 962.30 C1535.85 964.47 1539.65 968.57 1541.10 975.30 C1542.55 982.03 1543.50 993.82 1543.50 1002.70 C1543.50 1011.58 1541.42 1019.05 1541.10 1028.60 C1540.78 1038.15 1540.35 1047.60 1541.60 1060.00 C1542.85 1072.40 1547.43 1095.83 1548.60 1103.00 L1534 1108 C1532.92 1100.83 1528.80 1076.67 1527.50 1065.00 C1526.20 1053.33 1526.08 1048.38 1526.20 1038.00 C1526.32 1027.62 1528.07 1011.20 1528.20 1002.70 C1528.33 994.20 1527.98 992.28 1527.00 987.00 C1526.02 981.72 1523.08 973.67 1522.30 971.00 Z" fill="#fff" stroke="none"/>
<path d="M1522.30 971.00 C1523.08 973.67 1526.02 981.72 1527.00 987.00 C1527.98 992.28 1528.33 994.20 1528.20 1002.70 C1528.07 1011.20 1526.32 1027.62 1526.20 1038.00 C1526.08 1048.38 1526.20 1053.33 1527.50 1065.00 C1528.80 1076.67 1532.92 1100.83 1534.00 1108.00 M1534.80 962.30 C1535.85 964.47 1539.65 968.57 1541.10 975.30 C1542.55 982.03 1543.50 993.82 1543.50 1002.70 C1543.50 1011.58 1541.42 1019.05 1541.10 1028.60 C1540.78 1038.15 1540.35 1047.60 1541.60 1060.00 C1542.85 1072.40 1547.43 1095.83 1548.60 1103.00" fill="none" stroke="#000" stroke-width="2.1" stroke-linejoin="round" stroke-linecap="round"/>
<path d="M1419.60 1033.30 C1422.22 1037.75 1430.23 1052.22 1435.30 1060.00 C1440.37 1067.78 1443.67 1073.97 1450.00 1080.00 C1456.33 1086.03 1464.18 1091.58 1473.30 1096.20 C1482.42 1100.82 1495.75 1103.73 1504.70 1107.70 C1513.65 1111.67 1523.28 1117.95 1527.00 1120.00 M1436.80 1034.10 C1439.82 1038.42 1449.37 1053.18 1454.90 1060.00 C1460.43 1066.82 1462.40 1069.85 1470.00 1075.00 C1477.60 1080.15 1490.00 1085.57 1500.50 1090.90 C1511.00 1096.23 1527.58 1104.32 1533.00 1107.00" fill="none" stroke="#000" stroke-width="2.1" stroke-linejoin="round" stroke-linecap="round"/>
<path d="M1595.7 1313 C1594.75 1307.50 1592.27 1293.63 1590.00 1280.00 C1587.73 1266.37 1585.85 1248.05 1582.10 1231.20 C1578.35 1214.35 1573.68 1192.77 1567.50 1178.90 C1561.32 1165.03 1551.98 1157.08 1545.00 1148.00 C1538.02 1138.92 1528.83 1128.33 1525.60 1124.40 C1524 1118 1527 1110 1534 1106.5 C1540 1103 1546 1101 1549.7 1101.4 C1553.08 1105.00 1563.55 1115.32 1570.00 1123.00 C1576.45 1130.68 1581.50 1134.70 1588.40 1147.50 C1595.30 1160.30 1605.80 1182.72 1611.40 1199.80 C1617.00 1216.88 1618.50 1231.13 1622.00 1250.00 C1625.50 1268.87 1630.67 1302.50 1632.40 1313.00" fill="#fff" stroke="#000" stroke-width="2.1" stroke-linejoin="round" stroke-linecap="round"/>
<g fill="#fff" stroke="#000" stroke-width="2.1" stroke-linejoin="round" stroke-linecap="round">
<path d="M1456.5 850.8 L1435.3 846.2 C1427 847 1422.4 858 1422.4 872 L1442 880 Z"/>
<path d="M1416.8 881.3 L1394.7 876.7 C1386 877 1381.7 890 1381.7 905 L1400 910 Z"/>
<path d="M1377.1 912.7 L1354 907.2 C1343 907 1339.2 915 1339.2 925 C1339.2 936 1341 944 1343.9 945.1 L1377.1 954.3"/>
<path d="M1377.1 956.1 L1348.5 952.5 C1342 953 1339.2 962 1339.2 971 C1339.2 981 1341 989 1343.9 990.3 L1377.1 997.7"/>
</g>
<g fill="#fff" stroke="#000" stroke-width="2.1" stroke-linejoin="round" stroke-linecap="round">
<path d="M1456.50 850.90 L1511.90 863.80 L1511.90 979.30 L1456.50 965.40 Z"/>
<path d="M1456.50 850.90 L1483.30 832.40 L1536.90 845.30 L1511.90 863.80 Z"/>
<path d="M1511.90 863.80 L1536.90 845.30 L1537.40 960.90 L1511.90 979.30 Z"/>
<path d="M1468.10 850.00 L1484.20 838.50 L1524.90 846.60 L1510.10 858.30 Z M1484.20 838.50 V852.70"/>
<path d="M1497.70 909.30 C1501.70 904.30 1507.70 904.30 1511.40 907.30 L1511.40 944.30 C1507.70 947.30 1501.70 947.30 1497.70 943.80 Z" stroke="none"/>
<path d="M1497.70 909.80 C1501.70 905.30 1508.70 904.80 1511.40 912.30 M1497.70 943.80 C1503.70 946.30 1510.20 940.30 1511.00 930.30" fill="none"/>
<ellipse cx="1503.60" cy="927.20" rx="5.3" ry="11" transform="rotate(12 1503.60 927.20)"/>
<path d="M1416.80 879.50 L1472.20 892.40 L1472.20 1007.90 L1416.80 994.00 Z"/>
<path d="M1416.80 879.50 L1443.60 861.00 L1497.20 873.90 L1472.20 892.40 Z"/>
<path d="M1472.20 892.40 L1497.20 873.90 L1497.70 989.50 L1472.20 1007.90 Z"/>
<path d="M1428.40 878.60 L1444.50 867.10 L1485.20 875.20 L1470.40 886.90 Z M1444.50 867.10 V881.30"/>
<path d="M1458.00 937.00 C1462.00 932.00 1468.00 932.00 1471.70 935.00 L1471.70 972.00 C1468.00 975.00 1462.00 975.00 1458.00 971.50 Z" stroke="none"/>
<path d="M1458.00 937.50 C1462.00 933.00 1469.00 932.50 1471.70 940.00 M1458.00 971.50 C1464.00 974.00 1470.50 968.00 1471.30 958.00" fill="none"/>
<ellipse cx="1463.90" cy="954.90" rx="5.3" ry="11" transform="rotate(12 1463.90 954.90)"/>
<path d="M1377.10 907.20 L1432.50 920.10 L1432.50 1035.60 L1377.10 1021.70 Z"/>
<path d="M1377.10 907.20 L1403.90 888.70 L1457.50 901.60 L1432.50 920.10 Z"/>
<path d="M1432.50 920.10 L1457.50 901.60 L1458.00 1017.20 L1432.50 1035.60 Z"/>
<path d="M1388.70 906.30 L1404.80 894.80 L1445.50 902.90 L1430.70 914.60 Z M1404.80 894.80 V909.00"/>
</g>
<g fill="none" stroke="#000" stroke-width="1.6">
<circle cx="1403" cy="814.8" r="20"/>
<path d="M1403 796.3 V813.5 M1388.7 813.5 H1417.8 M1392.8 821.3 H1413.5 M1396.5 827.8 H1410.4"/>
</g>
<g stroke="#000" stroke-width="2.1" fill="none" stroke-linejoin="round"><path d="M 715.28 1424.51 Q 772.60 1408.31 829.92 1425.13"/>
<path d="M 715.28 1424.51 A 31.15 40.49 0 0 0 746.75 1465.00"/>
<path d="M 829.92 1424.51 A 31.52 40.49 0 0 1 798.39 1465.00"/>
<path d="M 671.36 1421.76 H 643.02 A 23.99 57.32 0 0 0 643.02 1536.33 H 671.36" fill="#fff"/>
<ellipse cx="671.92" cy="1479.02" rx="24.17" ry="57.32" fill="#fff"/>
<ellipse cx="672.23" cy="1479.20" rx="22.30" ry="55.57"/>
<path d="M 683.82 1467.31 H 672.30 C 667.94 1468.11 666.13 1473.10 666.13 1478.96 C 666.13 1484.94 667.94 1489.92 672.30 1490.73 H 683.82" fill="#fff"/>
<ellipse cx="683.82" cy="1479.02" rx="5.30" ry="11.71" fill="#fff"/>
<path d="M 746.75 1470.11 H 683.82 A 3.12 8.57 0 0 0 683.82 1487.24 H 746.75" fill="#fff"/>
<path d="M 746.75 1576.40 Q 772.60 1575.15 798.39 1576.40"/>
<path d="M 746.75 1576.71 C 726.50 1579.51 715.28 1594.47 715.28 1613.78"/>
<path d="M 798.39 1576.71 C 818.70 1579.51 829.92 1594.47 829.92 1613.78"/>
<path d="M 715.28 1613.78 Q 772.60 1598.20 829.92 1614.40"/>
<path d="M 715.28 1613.78 V 1736.51 M 829.92 1614.40 V 1736.51"/>
<ellipse cx="772.60" cy="1736.51" rx="57.44" ry="10.15" stroke-width="2.8"/>
<ellipse cx="772.60" cy="1736.64" rx="53.83" ry="9.22"/></g>
<g stroke="#000" stroke-width="2.1" fill="none" stroke-linejoin="round">
<path d="M715.3 1384 V1425 M829.9 1384 V1425"/>
<path d="M746.7 1465 Q772.5 1456 797.8 1465"/>
<path d="M746.7 1465 V1491.5 A25.55 4 0 0 0 797.8 1491.5 V1465"/>
<path d="M757.5 1567 V1520.6 Q757.5 1508 772.5 1506 Q787.5 1508 787.5 1520.6 V1567"/>
<path d="M757.5 1520.6 H768 V1538 H776.5 V1520.6 H787.5"/>
<path d="M756.6 1808 A50.2 15.2 0 1 0 812 1813"/>
<path d="M753.2 1823.7 V1762 Q772.5 1757 791.7 1762 V1823.7" fill="#fff"/>
<ellipse cx="772.5" cy="1755.6" rx="25.8" ry="4.2" stroke-width="2.8" fill="#fff"/>
<path d="M750 1755 Q772.5 1751.5 795 1755" stroke-width="1.3"/>
<path d="M752.7 1958.8 A50.2 14 0 1 0 808.4 1961.8"/>
<path d="M762.1 1879.7 C758 1890 752.2 1902 752.2 1916.5 C752.2 1935 762 1950 772.4 1962.3 C783 1950 792.6 1935 792.6 1916.5 C792.6 1902 787 1890 783.3 1879.7" fill="#fff"/>
<rect x="761.6" y="1873.6" width="22.1" height="6.1" fill="#fff"/>
<path d="M763.4 1860.5 V1873.6 M782.5 1860.5 V1873.6 M763.4 1863.5 L782.5 1861.5 M763.4 1867 L782.5 1865 M763.4 1870.5 L782.5 1868.5"/>
<path d="M766.5 1860 L769 1853.3 L775.7 1853.3 L780 1860 Z"/>
</g>
<g fill="#000">
<rect x="755.8" y="1489.6" width="33.6" height="17.4"/>
<ellipse cx="772.5" cy="1566.8" rx="15" ry="2.8"/>
<ellipse cx="772.5" cy="1823.5" rx="19" ry="3.6"/>
<ellipse cx="629.7" cy="1479.2" rx="4.5" ry="1.9"/>
<rect x="852.6" y="1663" width="6.5" height="59"/>
<path d="M855.6 1635.5 L864.7 1663.6 L847.1 1663.6 Z"/>
<rect x="812.3" y="1887" width="6.4" height="58.5"/>
<path d="M815.1 1859.4 L823.5 1887.7 L806.6 1887.7 Z"/>
<path d="M786.8 1805.9 L813 1802.2 L810.6 1818.6 Z"/>
<path d="M782.8 1956.4 L809.2 1953.4 L806.9 1969.2 Z"/>
</g>
<g stroke="#fff" stroke-width="0.55">
<path d="M756.5 1492.5 H788.7 M756.5 1495.3 H788.7 M756.5 1498.1 H788.7 M756.5 1500.9 H788.7 M756.5 1503.7 H788.7"/>
</g>
<g stroke="#000" stroke-width="2.1" fill="none" stroke-linejoin="round"><path d="M 1466.22 1721.26 V 1487.42 C 1466.22 1476.32 1501.74 1468.92 1534.30 1468.92 C 1566.86 1468.92 1602.38 1476.32 1602.38 1487.42 V 1721.26"/>
<path d="M 1466.22 1721.26 Q 1534.30 1702.02 1602.38 1722.00"/>
<path d="M 1466.22 1721.26 A 37.00 48.10 0 0 0 1503.59 1769.36"/>
<path d="M 1602.38 1721.26 A 37.44 48.10 0 0 1 1564.94 1769.36"/>
<path d="M 1503.59 1769.36 Q 1534.30 1759.00 1564.94 1769.36 Q 1566.12 1782.68 1564.94 1796.00 M 1503.59 1769.36 Q 1505.44 1782.68 1503.59 1796.00"/>
<path d="M 1503.59 1796.00 Q 1534.30 1794.52 1564.94 1796.00"/>
<path d="M 1503.59 1796.37 C 1479.54 1799.70 1466.22 1817.46 1466.22 1840.40"/>
<path d="M 1564.94 1796.37 C 1589.06 1799.70 1602.38 1817.46 1602.38 1840.40"/>
<path d="M 1466.22 1840.40 Q 1534.30 1821.90 1602.38 1841.14"/>
<path d="M 1466.22 1840.40 V 1986.18 M 1602.38 1841.14 V 1986.18"/>
<ellipse cx="1534.30" cy="1986.18" rx="68.23" ry="12.06" stroke-width="2.8"/>
<ellipse cx="1534.30" cy="1986.33" rx="63.94" ry="10.95"/>
<path d="M 1414.05 1718.00 H 1380.38 A 28.49 68.08 0 0 0 1380.38 1854.09 H 1414.05" fill="#fff"/>
<ellipse cx="1414.72" cy="1786.01" rx="28.71" ry="68.08" fill="#fff"/>
<ellipse cx="1415.09" cy="1786.23" rx="26.49" ry="66.01"/>
<path d="M 1428.85 1772.10 H 1415.16 C 1409.98 1773.06 1407.83 1778.98 1407.83 1785.94 C 1407.83 1793.04 1409.98 1798.96 1415.16 1799.92 H 1428.85" fill="#fff"/>
<ellipse cx="1428.85" cy="1786.01" rx="6.29" ry="13.91" fill="#fff"/>
<path d="M 1503.59 1775.43 H 1428.85 A 3.70 10.18 0 0 0 1428.85 1795.78 H 1503.59" fill="#fff"/></g>
<g stroke="#000" stroke-width="2.1" fill="none" stroke-linejoin="round">
<path d="M1521.3 1509.6 C1512 1492 1510.8 1480 1510.8 1466.5 C1510.8 1445 1522 1425 1534.2 1412.9 C1546.4 1425 1557.6 1445 1557.6 1466.5 C1557.6 1480 1556 1492 1547.8 1509.6"/>
<rect x="1521.3" y="1510.2" width="26.5" height="8"/>
<path d="M1522.8 1518.2 L1522.8 1534.6 M1545.8 1518.2 L1545.8 1534.6 M1522.8 1522.6 L1545.8 1520.6 M1522.8 1526.8 L1545.8 1524.8 M1522.8 1531 L1545.8 1529 M1522.8 1534.8 L1545.8 1533"/>
<path d="M1526.2 1534.9 L1531.1 1542.2 L1537.9 1542.2 L1541.6 1534.9"/>
<path d="M1543.4 1538.2 A45.6 13.9 0 1 0 1492 1531.5"/>
<path d="M1511.4 1669.9 V1558 Q1511.4 1554 1520 1553 Q1534 1551 1548 1553 Q1557 1554 1557 1558 V1669.9"/>
<ellipse cx="1534.2" cy="1677.5" rx="31.4" ry="8.2" stroke-width="2.6" fill="#fff"/>
<ellipse cx="1534.2" cy="1678.2" rx="28.8" ry="6" stroke-width="1.6"/>
</g>
<g fill="#000">
<path d="M1491.1 1540.4 L1495.4 1525.6 L1515.7 1538.5 Z"/>
<rect x="1485.6" y="1550" width="5.9" height="52"/>
<path d="M1480.6 1601.6 L1496.7 1601.6 L1488.9 1628.6 Z"/>
<ellipse cx="1534.5" cy="1678.5" rx="21.2" ry="4.3"/>
<ellipse cx="1363.6" cy="1786.4" rx="4.8" ry="2.2"/>
</g>
<g stroke="#000" stroke-width="2.1" fill="none" stroke-linejoin="round"><path d="M2422 1162 V846 C2422 831 2470 821 2514 821 C2558 821 2606 831 2606 846 V1162"/>
<path d="M2422 1162 Q2514 1136 2606 1163"/>
<path d="M2422 1162 A50 65 0 0 0 2472.5 1227"/>
<path d="M2606 1162 A50.6 65 0 0 1 2555.4 1227"/>
<path d="M2472.5 1227 Q2514 1213 2555.4 1227 Q2557 1245 2555.4 1263 M2472.5 1227 Q2475 1245 2472.5 1263"/>
<path d="M2472.5 1263 Q2514 1261 2555.4 1263"/>
<path d="M2472.5 1263.5 C2440 1268 2422 1292 2422 1323"/>
<path d="M2555.4 1263.5 C2588 1268 2606 1292 2606 1323"/>
<path d="M2422 1323 Q2514 1298 2606 1324"/>
<path d="M2422 1323 V1520 M2606 1324 V1520"/>
<ellipse cx="2514" cy="1520" rx="92.2" ry="16.3" stroke-width="2.8"/>
<ellipse cx="2514" cy="1520.2" rx="86.4" ry="14.8"/>
<path d="M2351.5 1157.6 H2306 A38.5 92 0 0 0 2306 1341.5 H2351.5" fill="#fff"/>
<ellipse cx="2352.4" cy="1249.5" rx="38.8" ry="92" fill="#fff"/>
<ellipse cx="2352.9" cy="1249.8" rx="35.8" ry="89.2"/>
<path d="M2371.5 1230.7 H2353 C2346 1232 2343.1 1240 2343.1 1249.4 C2343.1 1259 2346 1267 2353 1268.3 H2371.5" fill="#fff"/>
<ellipse cx="2371.5" cy="1249.5" rx="8.5" ry="18.8" fill="#fff"/>
<path d="M2472.5 1235.2 H2371.5 A5 13.75 0 0 0 2371.5 1262.7 H2472.5" fill="#fff"/></g>
<g fill="#000" stroke="none">
<rect x="2841.3" y="820" width="2.4" height="720"/>
<path d="M2842.3 789.5 L2852.3 839.5 L2833.3 839.5 Z" stroke="#000" stroke-width="1.5" stroke-linejoin="round"/>
<path d="M2843.3 1563.7 L2851.9 1515.2 L2833.1 1515.2 Z" stroke="#000" stroke-width="1.5" stroke-linejoin="round"/>
<rect x="2225" y="1642.2" width="470" height="2.3"/>
<path d="M2715 1643.4 L2665.8 1635.1 L2665.8 1652.7 Z" stroke="#000" stroke-width="1.5" stroke-linejoin="round"/>
<path d="M2208.5 1644 L2257.7 1634.4 L2257.7 1652.5 Z" stroke="#000" stroke-width="1.5" stroke-linejoin="round"/>
<path d="M2682.2 1519.5 L2724.3 1546.8 L2711.4 1559 Z" stroke="#000" stroke-width="1.5" stroke-linejoin="round"/>
<path d="M2816.2 1646.8 L2786.3 1607.6 L2774 1620.5 Z" stroke="#000" stroke-width="1.5" stroke-linejoin="round"/>
<path d="M2716 1551 L2782 1616" stroke="#000" stroke-width="2.2"/>
</g>
</svg>
</body></html>
